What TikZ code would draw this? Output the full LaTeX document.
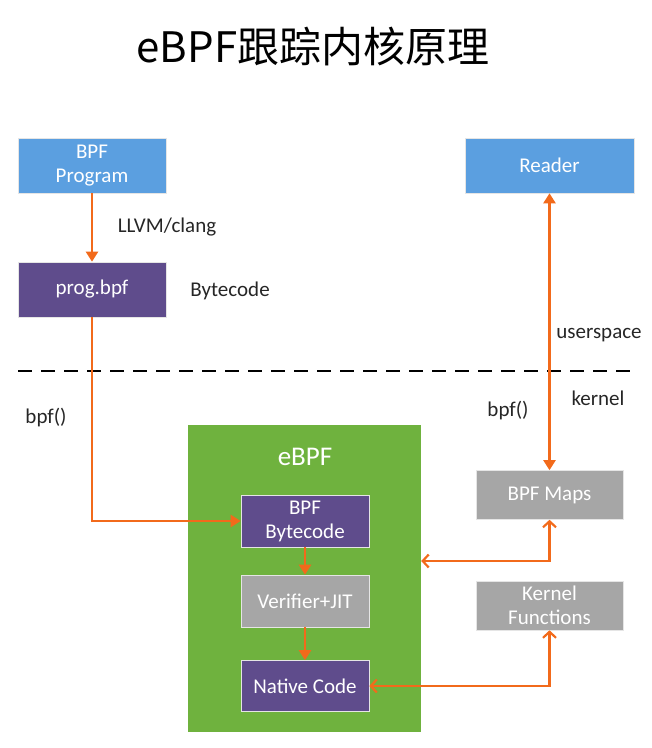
\documentclass[tikz,border=0pt]{standalone}
\usepackage{fontspec}
\setmainfont{Carlito}
\newfontfamily\cjkfont{Noto Sans CJK SC}
\usetikzlibrary{arrows.meta}

\definecolor{userblue}{HTML}{5B9FE0}
\definecolor{codepurple}{HTML}{5F4C8C}
\definecolor{kernelgray}{HTML}{A6A6A6}
\definecolor{ebpfgreen}{HTML}{6FB23E}
\definecolor{flowarrow}{HTML}{F26A1B}
\definecolor{labeltext}{HTML}{262626}

\begin{document}
\begin{tikzpicture}[x=1pt, y=-1pt,
        box/.style={rectangle, draw=white!80!gray, line width=0.6pt, text=white, align=center,
            inner sep=0pt, font=\fontsize{21}{24}\selectfont},
        userbox/.style={box, fill=userblue},
        codebox/.style={box, fill=codepurple},
        graybox/.style={box, fill=kernelgray},
        note/.style={text=labeltext, font=\fontsize{21}{24}\selectfont},
        flow/.style={draw=flowarrow, line width=2.2pt, -{Triangle[length=10pt,width=12pt]}},
        biflow/.style={draw=flowarrow, line width=2.2pt, {Triangle[length=10pt,width=12pt]}-{Triangle[length=10pt,width=12pt]}},
        barbflow/.style={draw=flowarrow, line width=2.2pt, {Straight Barb[length=6pt,width=13pt]}-{Straight Barb[length=6pt,width=13pt]}}]
        \useasboundingbox (0,0) rectangle (652,748);

        \node[font=\cjkfont\fontsize{42}{46}\selectfont] (title) at (313,46) {eBPF跟踪内核原理};

        \node[userbox, minimum width=148pt, minimum height=55pt] (bpfprog) at (92,165.5) {BPF\\Program};
        \node[codebox, minimum width=148pt, minimum height=55pt] (progbpf) at (92,289.5) {prog.bpf};
        \node[userbox, minimum width=169pt, minimum height=55pt] (reader) at (549.5,165.5) {Reader};

        \node[note] (llvm) at (167,227) {LLVM/clang};
        \node[note] (bytelabel) at (230,291) {Bytecode};
        \node[note] (userspace) at (599,335) {userspace};
        \node[note] (kernel) at (598,398) {kernel};
        \node[note] (bpfcallleft) at (46,418) {bpf()};
        \node[note] (bpfcallright) at (508,411) {bpf()};

        \draw[line width=1.8pt, dash pattern=on 14pt off 9pt] (18,371) -- (638,371);

        \node[rectangle, fill=ebpfgreen, minimum width=233pt, minimum height=307pt] (ebpf) at (304.5,578.5) {};
        \node[text=white, font=\fontsize{27}{30}\selectfont] (ebpflabel) at (305,457) {eBPF};
        \node[codebox, minimum width=128pt, minimum height=52pt] (bytecode) at (305,521) {BPF\\Bytecode};
        \node[graybox, minimum width=128pt, minimum height=52pt] (verifier) at (305,601) {Verifier+JIT};
        \node[codebox, minimum width=128pt, minimum height=51pt] (native) at (305,686) {Native Code};

        \node[graybox, minimum width=147pt, minimum height=49pt] (maps) at (549.5,495) {BPF Maps};
        \node[graybox, minimum width=147pt, minimum height=49pt] (kfuncs) at (549.5,605.5) {Kernel\\Functions};

        \coordinate (mapsin) at (ebpf.east |- 0,561);

        \draw[flow] (bpfprog) -- (progbpf);
        \draw[flow] (progbpf.south) |- (bytecode.west);
        \draw[flow] (bytecode) -- (verifier);
        \draw[flow] (verifier) -- (native);
        \draw[biflow] (maps.north) -- (reader.south);
        \draw[barbflow] (maps.south) |- (mapsin);
        \draw[barbflow] (native.east) -| (kfuncs.south);
    \end{tikzpicture}
\end{document}
